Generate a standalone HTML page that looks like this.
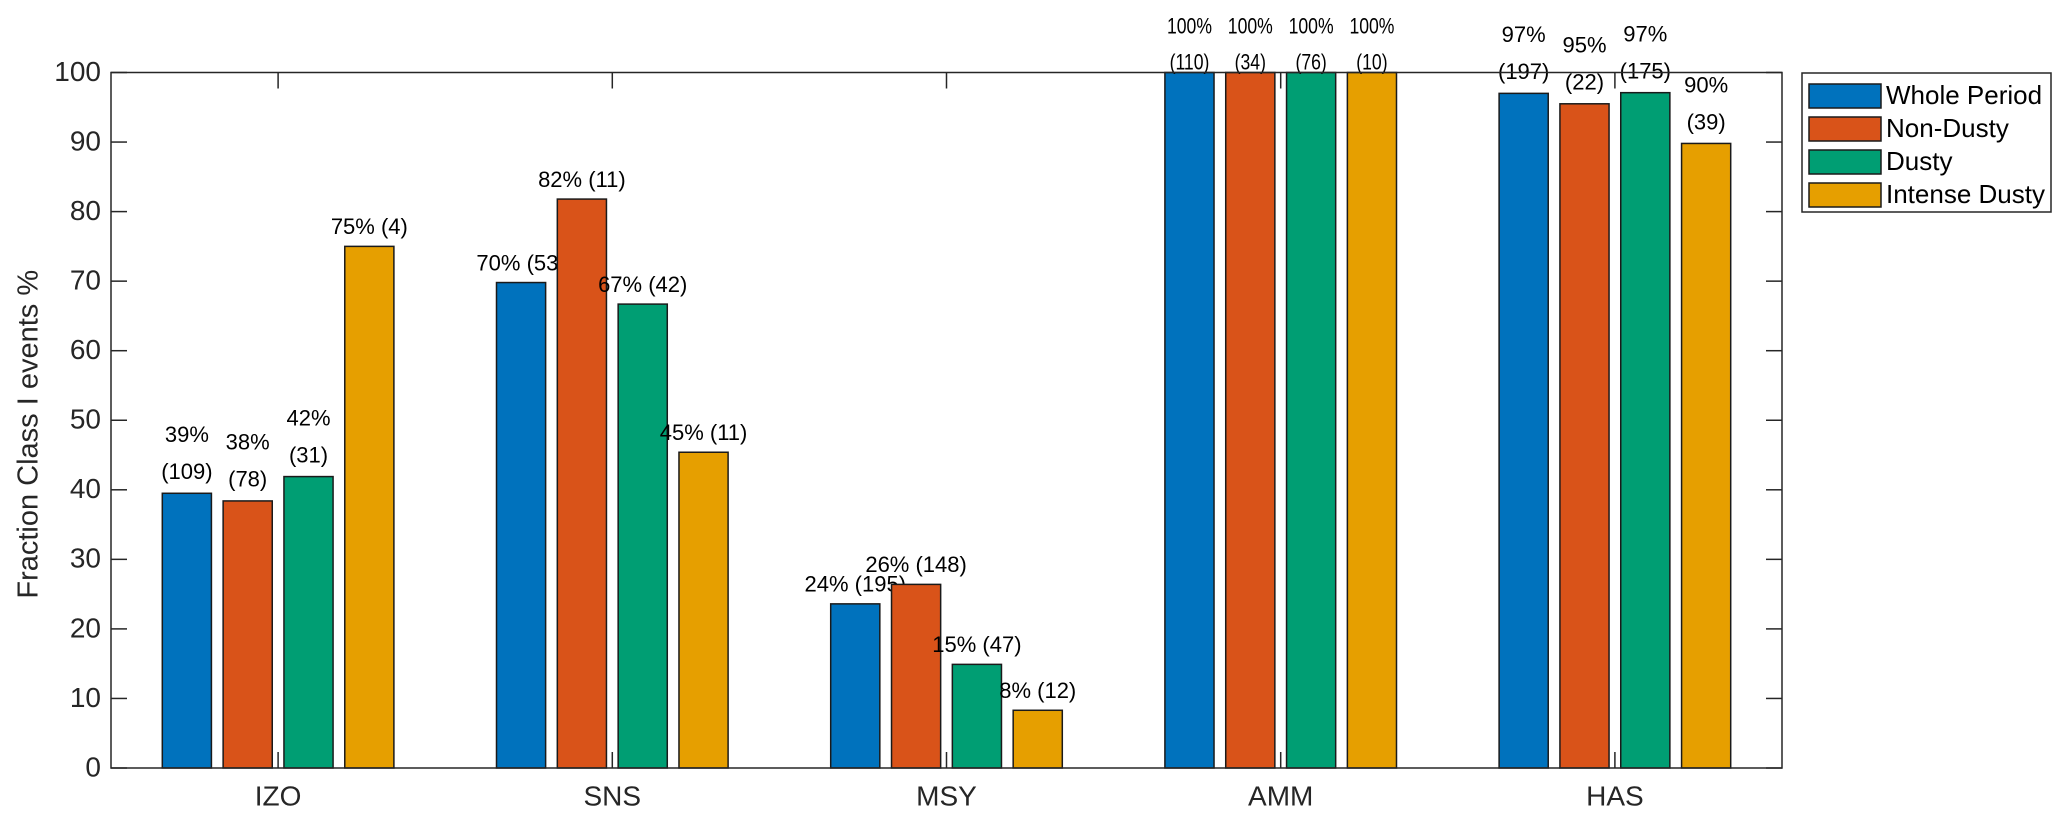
<!DOCTYPE html>
<html><head><meta charset="utf-8"><style>
html,body{margin:0;padding:0;background:#fff;}
svg{display:block;font-family:"Liberation Sans",Arial,sans-serif;}
</style></head><body>
<svg id="chart" width="2067" height="825" viewBox="0 0 2067 825" xmlns="http://www.w3.org/2000/svg"></svg>
<script>
const categories = ["IZO","SNS","MSY","AMM","HAS"];
const seriesNames = ["Whole Period","Non-Dusty","Dusty","Intense Dusty"];
const wholePeriod = [39.5, 69.8, 23.6, 100, 97.0];
const nonDusty = [38.4, 81.8, 26.4, 100, 95.5];
const dusty = [41.9, 66.7, 14.9, 100, 97.1];
const intenseDusty = [75.0, 45.4, 8.3, 100, 89.8];
const labelsWhole = [["39%","(109)"],["70% (53)"],["24% (195)"],["100%","(110)"],["97%","(197)"]];
const labelsNon = [["38%","(78)"],["82% (11)"],["26% (148)"],["100%","(34)"],["95%","(22)"]];
const labelsDusty = [["42%","(31)"],["67% (42)"],["15% (47)"],["100%","(76)"],["97%","(175)"]];
const labelsIntense = [["75% (4)"],["45% (11)"],["8% (12)"],["100%","(10)"],["90%","(39)"]];
const yTicks = [0,10,20,30,40,50,60,70,80,90,100];
const colors = ["#0072BD","#D95319","#009E73","#E69F00"];

const NS="http://www.w3.org/2000/svg";
const svg=document.getElementById('chart');
const L=111,R=1782,T=72.5,B=768;
const yMax=100;
function y(v){return B-(B-T)*v/yMax;}
function xCenter(i){return L+(R-L)/categories.length*(i+0.5);}
const unit=(R-L)/categories.length;
const barW=0.147*unit, pitch=0.182*unit;
function mk(tag,attrs){const e=document.createElementNS(NS,tag);for(const k in attrs)e.setAttribute(k,attrs[k]);svg.appendChild(e);return e;}

const series=[wholePeriod,nonDusty,dusty,intenseDusty];
const labels=[labelsWhole,labelsNon,labelsDusty,labelsIntense];

series.forEach((vals,s)=>{
  vals.forEach((v,i)=>{
    const cx=xCenter(i)+(s-1.5)*pitch;
    const r=mk('rect',{x:cx-barW/2,y:y(v),width:barW,height:B-y(v),fill:colors[s],stroke:'#1a1a1a','stroke-width':1.5});
    
    
    const lab=labels[s][i];
    const top=y(v);
    let ys, sx=1;
    if(lab.length===1) ys=[top-18];
    else if(v>=99.9){ ys=[top-45,top-9]; sx=0.8; }
    else ys=[top-57,top-20];
    lab.forEach((t,k)=>{
      const tx=mk('text',{x:0,y:0,'font-size':22,'text-anchor':'middle','dominant-baseline':'middle',fill:'#000',transform:'translate('+cx+' '+ys[k]+') scale('+sx+' 1)'});
      tx.textContent=t;
      
      
    });
  });
});

const box=mk('rect',{x:L,y:T,width:R-L,height:B-T,fill:'none',stroke:'#262626','stroke-width':1.5});



yTicks.forEach(t=>{
  const yy=y(t);
  mk('line',{x1:L,x2:L+16,y1:yy,y2:yy,stroke:'#262626','stroke-width':1.5});
  mk('line',{x1:R-16,x2:R,y1:yy,y2:yy,stroke:'#262626','stroke-width':1.5});
  const tx=mk('text',{x:L-10,y:yy+1,'font-size':28,'text-anchor':'end','dominant-baseline':'middle',fill:'#262626'});
  tx.textContent=t;
  
  
});
categories.forEach((c,i)=>{
  const xx=xCenter(i);
  mk('line',{x1:xx,x2:xx,y1:B,y2:B-16,stroke:'#262626','stroke-width':1.5});
  mk('line',{x1:xx,x2:xx,y1:T,y2:T+16,stroke:'#262626','stroke-width':1.5});
  const tx=mk('text',{x:xx,y:798,'font-size':28,'text-anchor':'middle','dominant-baseline':'middle',fill:'#262626'});
  tx.textContent=c;
  
  
});
const yc=(T+B)/2+14;
const yt=mk('text',{x:30,y:yc,'font-size':29,'text-anchor':'middle','dominant-baseline':'middle',fill:'#262626',transform:'rotate(-90 30 '+yc+')'});
yt.textContent='Fraction Class I events %';



const lg=mk('rect',{x:1802,y:73,width:249,height:139,fill:'#fff',stroke:'#262626','stroke-width':1.5});


const rowsY=[96,129,162,195];
seriesNames.forEach((n,s)=>{
  const sw=mk('rect',{x:1809,y:rowsY[s]-12,width:72,height:24,fill:colors[s],stroke:'#1a1a1a','stroke-width':1.5});
  
  
  const tx=mk('text',{x:1886,y:rowsY[s]+1,'font-size':26,'dominant-baseline':'middle',fill:'#000'});
  tx.textContent=n;
  
  
});
</script>
</body></html>
